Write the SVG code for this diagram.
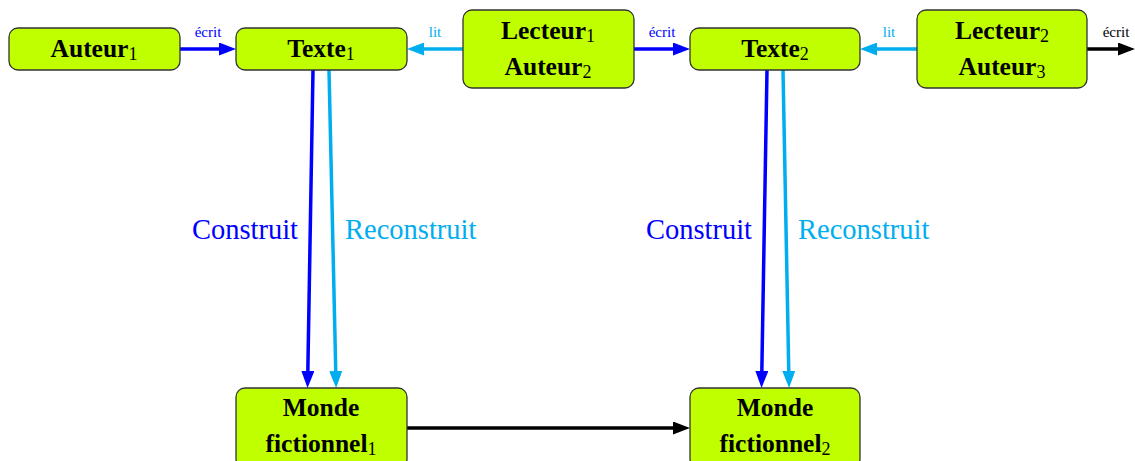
<svg xmlns="http://www.w3.org/2000/svg" width="1135" height="461" viewBox="0 0 1135 461">
<style>
.node{fill:#bfff00;stroke:#333;stroke-width:1.3}
.t{font-family:"Liberation Serif","Times New Roman",serif;font-weight:bold;font-size:25.5px;fill:#000;text-anchor:middle}
.sub{font-weight:normal;font-size:18px}
.lab{font-family:"Liberation Serif","Times New Roman",serif;font-size:15px}
.big{font-family:"Liberation Serif","Times New Roman",serif;font-size:28.5px}
.blue{stroke:#0000ff}
.cyan{stroke:#00aeef}
.black{stroke:#000}
.c{fill:none;stroke-width:3.5}
</style>
<defs>
<marker id="ab" viewBox="0 0 17 13" markerWidth="17" markerHeight="13" refX="2" refY="6.5" orient="auto" markerUnits="userSpaceOnUse"><path d="M0,0 L17,6.5 L0,13 z" fill="#0000ff"/></marker>
<marker id="ac" viewBox="0 0 17 13" markerWidth="17" markerHeight="13" refX="2" refY="6.5" orient="auto" markerUnits="userSpaceOnUse"><path d="M0,0 L17,6.5 L0,13 z" fill="#00aeef"/></marker>
<marker id="ak" viewBox="0 0 17 13" markerWidth="17" markerHeight="13" refX="2" refY="6.5" orient="auto" markerUnits="userSpaceOnUse"><path d="M0,0 L17,6.5 L0,13 z" fill="#000"/></marker>
</defs>
<rect width="1135" height="461" fill="#fff"/>
<g id="connectors">
<line class="c blue" x1="180" y1="49" x2="221" y2="49" marker-end="url(#ab)"/>
<line class="c cyan" x1="463" y1="49" x2="422" y2="49" marker-end="url(#ac)"/>
<line class="c blue" x1="634" y1="49" x2="675" y2="49" marker-end="url(#ab)"/>
<line class="c cyan" x1="917" y1="49" x2="875" y2="49" marker-end="url(#ac)"/>
<line class="c black" x1="1087" y1="49" x2="1120" y2="49" marker-end="url(#ak)"/>
<line class="c blue" x1="313" y1="70" x2="307.8" y2="373" marker-end="url(#ab)"/>
<line class="c cyan" x1="329" y1="70" x2="335.8" y2="373" marker-end="url(#ac)"/>
<line class="c blue" x1="767" y1="70" x2="761.8" y2="373" marker-end="url(#ab)"/>
<line class="c cyan" x1="783" y1="70" x2="788.8" y2="373" marker-end="url(#ac)"/>
<line class="c black" x1="407" y1="428" x2="675" y2="428" marker-end="url(#ak)"/>
<text class="lab" x="208" y="37" text-anchor="middle" fill="#0000ff">écrit</text>
<text class="lab" x="435" y="37" text-anchor="middle" fill="#00aeef">lit</text>
<text class="lab" x="662" y="37" text-anchor="middle" fill="#0000ff">écrit</text>
<text class="lab" x="889" y="37" text-anchor="middle" fill="#00aeef">lit</text>
<text class="lab" x="1116" y="37" text-anchor="middle" fill="#000">écrit</text>
<text class="big" x="298" y="239" text-anchor="end" fill="#0000ff">Construit</text>
<text class="big" x="345" y="239" fill="#00aeef">Reconstruit</text>
<text class="big" x="752" y="239" text-anchor="end" fill="#0000ff">Construit</text>
<text class="big" x="798" y="239" fill="#00aeef">Reconstruit</text>
</g>
<g id="auteur1">
<rect class="node" x="9" y="28" width="171" height="42" rx="9"/>
<text class="t" x="94" y="57">Auteur<tspan class="sub" dy="3">1</tspan></text>
</g>
<g id="texte1">
<rect class="node" x="236" y="28" width="171" height="42" rx="9"/>
<text class="t" x="321" y="57">Texte<tspan class="sub" dy="3">1</tspan></text>
</g>
<g id="lecteur1">
<rect class="node" x="463" y="10" width="171" height="78" rx="9"/>
<text class="t" x="548" y="39">Lecteur<tspan class="sub" dy="3">1</tspan></text>
<text class="t" x="548" y="75">Auteur<tspan class="sub" dy="3">2</tspan></text>
</g>
<g id="texte2">
<rect class="node" x="690" y="28" width="170" height="42" rx="9"/>
<text class="t" x="775" y="57">Texte<tspan class="sub" dy="3">2</tspan></text>
</g>
<g id="lecteur2">
<rect class="node" x="917" y="10" width="170" height="78" rx="9"/>
<text class="t" x="1002" y="39">Lecteur<tspan class="sub" dy="3">2</tspan></text>
<text class="t" x="1002" y="75">Auteur<tspan class="sub" dy="3">3</tspan></text>
</g>
<g id="monde1">
<rect class="node" x="236" y="388" width="171" height="80" rx="9"/>
<text class="t" x="321" y="416">Monde</text>
<text class="t" x="321" y="452">fictionnel<tspan class="sub" dy="3">1</tspan></text>
</g>
<g id="monde2">
<rect class="node" x="690" y="388" width="170" height="80" rx="9"/>
<text class="t" x="775" y="416">Monde</text>
<text class="t" x="775" y="452">fictionnel<tspan class="sub" dy="3">2</tspan></text>
</g>
</svg>
